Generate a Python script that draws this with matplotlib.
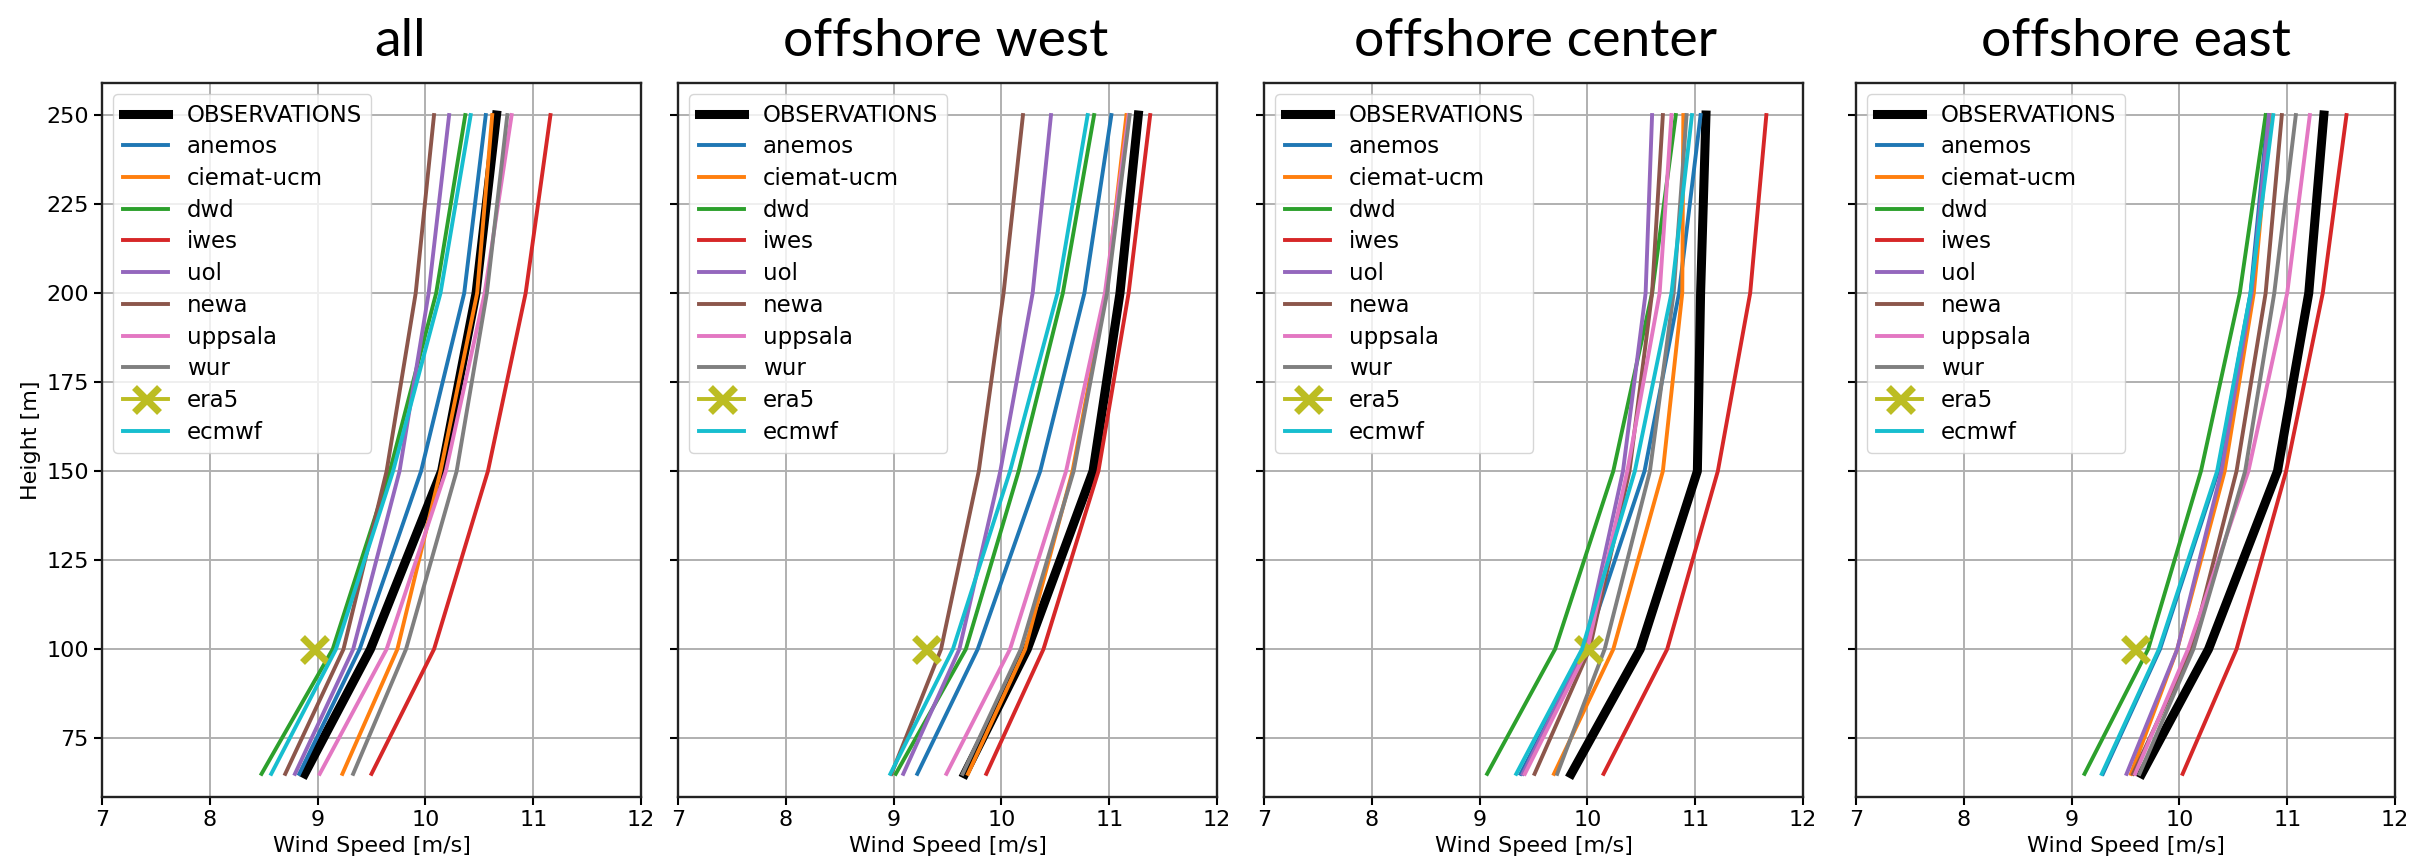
import numpy as np
import matplotlib.pyplot as plt

# heights of the profile levels [m]
heights = [65, 100, 150, 200, 250]
regions = ["all", "offshore west", "offshore center", "offshore east"]

# one row per region (all, west, center, east), values at each height
obs = [[8.88, 9.49, 10.15, 10.47, 10.66],
       [9.66, 10.24, 10.85, 11.10, 11.27],
       [9.85, 10.49, 11.02, 11.05, 11.10],
       [9.65, 10.27, 10.91, 11.20, 11.34]]
anemos = [[8.83, 9.39, 9.96, 10.36, 10.56],
          [9.22, 9.78, 10.36, 10.77, 11.02],
          [9.38, 9.98, 10.53, 10.85, 11.05],
          [9.29, 9.82, 10.36, 10.66, 10.82]]
ciemat = [[9.23, 9.74, 10.14, 10.48, 10.62],
          [9.69, 10.22, 10.66, 10.97, 11.16],
          [9.69, 10.24, 10.70, 10.88, 10.89],
          [9.55, 9.98, 10.42, 10.69, 10.84]]
dwd = [[8.48, 9.14, 9.67, 10.10, 10.37],
       [9.02, 9.67, 10.16, 10.57, 10.86],
       [9.07, 9.70, 10.24, 10.60, 10.82],
       [9.12, 9.71, 10.20, 10.56, 10.80]]
iwes = [[9.50, 10.08, 10.58, 10.93, 11.16],
        [9.86, 10.39, 10.90, 11.18, 11.38],
        [10.15, 10.74, 11.21, 11.51, 11.66],
        [10.03, 10.53, 10.99, 11.33, 11.55]]
uol = [[8.79, 9.33, 9.76, 10.03, 10.22],
       [9.09, 9.61, 9.99, 10.29, 10.46],
       [9.40, 9.97, 10.33, 10.54, 10.60],
       [9.51, 9.98, 10.39, 10.67, 10.83]]
newa = [[8.70, 9.24, 9.64, 9.91, 10.08],
        [8.98, 9.44, 9.79, 10.02, 10.20],
        [9.51, 10.02, 10.39, 10.60, 10.70],
        [9.57, 10.11, 10.53, 10.80, 10.95]]
uppsala = [[9.02, 9.64, 10.19, 10.55, 10.80],
           [9.49, 10.08, 10.60, 10.96, 11.18],
           [9.42, 10.00, 10.37, 10.67, 10.78],
           [9.59, 10.08, 10.64, 11.00, 11.21]]
wur = [[9.33, 9.82, 10.29, 10.57, 10.76],
       [9.64, 10.18, 10.67, 10.98, 11.19],
       [9.72, 10.16, 10.58, 10.80, 10.92],
       [9.63, 10.13, 10.61, 10.88, 11.08]]
ecmwf = [[8.57, 9.17, 9.70, 10.14, 10.42],
         [8.97, 9.55, 10.08, 10.52, 10.80],
         [9.34, 9.95, 10.44, 10.78, 10.97],
         [9.28, 9.81, 10.35, 10.66, 10.87]]
# era5 only at 100 m
era5_height = 100
era5 = [8.97, 9.30, 10.01, 9.59]

models = [("anemos", anemos), ("ciemat-ucm", ciemat), ("dwd", dwd),
          ("iwes", iwes), ("uol", uol), ("newa", newa),
          ("uppsala", uppsala), ("wur", wur)]

W, H = 2433, 864
fig = plt.figure(figsize=(W / 100, H / 100), dpi=100)

lefts = [102, 678, 1264, 1856]
title_x = [400, 946, 1536, 2136]

for i, reg in enumerate(regions):
    ax = fig.add_axes([lefts[i] / W, 67 / H, 539 / W, 714 / H])
    ax.plot(obs[i], heights, color="black", lw=6.5, label="OBSERVATIONS")
    for k, (name, vals) in enumerate(models):
        ax.plot(vals[i], heights, color="C%d" % k, lw=2.8, label=name)
    ax.plot([era5[i]], [era5_height], color="C8", lw=2.8, marker="x",
            ms=18, mew=5, label="era5")
    ax.plot(ecmwf[i], heights, color="C9", lw=2.8, label="ecmwf")

    ax.set_xlim(7, 12)
    ax.set_ylim(58.5, 259)
    ax.set_xticks([7, 8, 9, 10, 11, 12])
    ax.set_yticks([75, 100, 125, 150, 175, 200, 225, 250])
    ax.grid(True, color="#b0b0b0", lw=1.4)
    ax.tick_params(labelsize=16, length=6, width=1.5)
    for s in ax.spines.values():
        s.set_linewidth(1.7)
        s.set_color("#222222")
    ax.set_xlabel("Wind Speed [m/s]", fontsize=16)
    if i == 0:
        ax.set_ylabel("Height [m]", fontsize=16)
    else:
        ax.set_yticklabels([])
    ax.legend(loc="upper left", fontsize=16.5, labelspacing=0.38)

    fig.text(title_x[i] / W, 1 - 56 / H, reg, ha="center", va="baseline",
             fontsize=38.5, family=["Lato", "DejaVu Sans"])

fig.savefig("out.png", dpi=100)
